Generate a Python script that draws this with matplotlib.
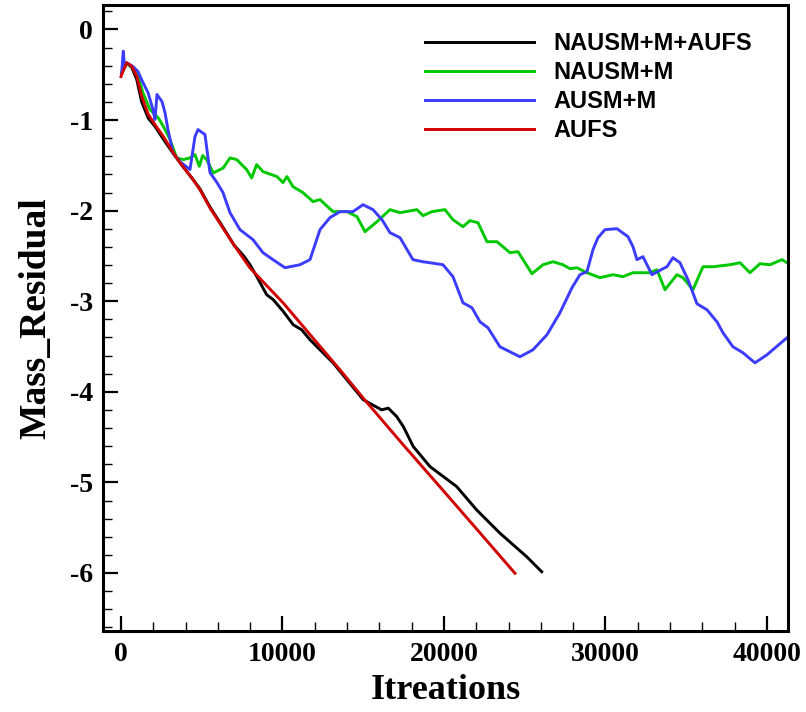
import numpy as np
import matplotlib
matplotlib.use("Agg")
import matplotlib.pyplot as plt
from matplotlib.ticker import MultipleLocator

plt.rcParams["axes.unicode_minus"] = False

# data (iterations, log residual)
black = np.array([
    [43, -0.48], [353, -0.37], [663, -0.42], [972, -0.55], [1282, -0.80],
    [1690, -0.98], [2105, -1.07], [2619, -1.21], [3238, -1.37], [3653, -1.47],
    [4477, -1.66], [4892, -1.76], [5511, -1.96], [6200, -2.15], [7000, -2.38],
    [7600, -2.50], [7988, -2.597], [8402, -2.726], [9022, -2.928], [9430, -2.983],
    [10050, -3.113], [10669, -3.26], [11189, -3.315], [11703, -3.425], [13146, -3.683],
    [15003, -4.088], [16142, -4.199], [16551, -4.18], [17071, -4.273], [17480, -4.383],
    [18099, -4.604], [19133, -4.825], [20786, -5.046], [22025, -5.304], [23467, -5.561],
    [25121, -5.82], [26050, -5.986],
])

red = np.array([
    [0, -0.52], [43, -0.497], [353, -0.368], [663, -0.406], [972, -0.516],
    [1282, -0.737], [1690, -0.939], [2105, -1.05], [2619, -1.18], [3238, -1.36],
    [3653, -1.47], [4477, -1.66], [4892, -1.77], [5511, -1.97], [6200, -2.16],
    [7000, -2.38], [7988, -2.633], [10050, -3.02], [13560, -3.757], [15003, -4.07],
    [17500, -4.59], [20000, -5.10], [22000, -5.51], [24396, -6.003],
])

green = np.array([
    [43, -0.475], [353, -0.38], [663, -0.41], [1053, -0.52], [1362, -0.70],
    [1796, -0.884], [2310, -0.976], [2619, -1.068], [3034, -1.215], [3449, -1.418],
    [3858, -1.436], [4272, -1.418], [4582, -1.381], [4848, -1.51], [5058, -1.392],
    [5306, -1.436], [5715, -1.584], [6334, -1.528], [6749, -1.418], [7164, -1.436],
    [7783, -1.547], [8093, -1.639], [8402, -1.492], [8793, -1.569], [9659, -1.624],
    [10031, -1.69], [10279, -1.624], [10650, -1.735], [11269, -1.801], [11889, -1.90],
    [12322, -1.878], [13127, -2.011], [13994, -2.011], [14613, -2.066], [15108, -2.232],
    [15851, -2.122], [16656, -1.989], [17276, -2.022], [18328, -1.989], [18700, -2.055],
    [19257, -2.011], [20062, -1.989], [20557, -2.10], [21176, -2.177], [21610, -2.11],
    [22105, -2.133], [22663, -2.343], [23282, -2.343], [24087, -2.464], [24582, -2.453],
    [25449, -2.696], [26130, -2.597], [26749, -2.564], [27368, -2.597], [27802, -2.641],
    [28235, -2.63], [28854, -2.685], [29659, -2.74], [30464, -2.707], [31084, -2.729],
    [31703, -2.685], [32755, -2.685], [33189, -2.652], [33684, -2.873], [34427, -2.707],
    [34799, -2.74], [35418, -2.873], [36037, -2.619], [36656, -2.619], [37709, -2.597],
    [38328, -2.575], [38947, -2.685], [39567, -2.586], [40186, -2.597], [40929, -2.541],
    [41238, -2.575], [41500, -2.60],
])

blue = np.array([
    [43, -0.478], [142, -0.24], [217, -0.40], [353, -0.368], [743, -0.409],
    [1053, -0.464], [1362, -0.586], [1672, -0.696], [1981, -0.884], [2105, -0.994],
    [2229, -0.718], [2539, -0.796], [2724, -0.917], [2910, -1.105], [3220, -1.359],
    [3653, -1.459], [4272, -1.547], [4582, -1.182], [4768, -1.105], [5201, -1.16],
    [5511, -1.58], [5944, -1.69], [6316, -1.80], [6749, -2.022], [7368, -2.21],
    [8173, -2.32], [8793, -2.464], [9412, -2.541], [10155, -2.63], [11084, -2.597],
    [11703, -2.541], [12322, -2.21], [12941, -2.077], [13560, -2.011], [14365, -2.011],
    [14985, -1.934], [15604, -1.989], [16161, -2.10], [16656, -2.243], [17276, -2.298],
    [18080, -2.541], [18700, -2.564], [19133, -2.575], [19938, -2.597], [20557, -2.729],
    [21176, -3.017], [21734, -3.072], [22229, -3.227], [22724, -3.293], [23467, -3.503],
    [24706, -3.613], [25511, -3.536], [26378, -3.37], [27183, -3.127], [27926, -2.851],
    [28421, -2.707], [28854, -2.674], [29226, -2.431], [29536, -2.298], [29969, -2.21],
    [30712, -2.199], [31393, -2.287], [31703, -2.398], [31950, -2.541], [32322, -2.508],
    [32879, -2.707], [33560, -2.641], [33808, -2.619], [34180, -2.519], [34613, -2.575],
    [35108, -2.762], [35666, -3.028], [36285, -3.094], [36904, -3.227], [37276, -3.348],
    [37895, -3.503], [38514, -3.569], [39257, -3.68], [40000, -3.591], [41238, -3.403],
    [41500, -3.38],
])

labels = ["NAUSM+M+AUFS", "NAUSM+M", "AUSM+M", "AUFS"]
colors = ["black", "#00c800", "#3c3cff", "#d00000"]

serif = "Liberation Serif"

fig = plt.figure(figsize=(8.06, 7.12), dpi=100)
ax = fig.add_axes([0.1274, 0.1142, 0.978 - 0.1274, 0.9923 - 0.1142])

for data, lab, col in zip([black, green, blue, red], labels, colors):
    ax.plot(data[:, 0], data[:, 1], color=col, lw=2.1, label=lab)

ax.set_xlim(-1133, 41319)
ax.set_ylim(-6.637, 0.265)

ax.xaxis.set_major_locator(MultipleLocator(10000))
ax.xaxis.set_minor_locator(MultipleLocator(2000))
ax.yaxis.set_major_locator(MultipleLocator(1))
ax.yaxis.set_minor_locator(MultipleLocator(0.2))
ax.tick_params(which="major", direction="in", length=11, width=1.6, top=False, right=False)
ax.tick_params(which="minor", direction="in", length=6.5, width=1.0, top=False, right=False)
ax.tick_params(axis="y", pad=7)
ax.tick_params(axis="x", pad=8)

for sp in ax.spines.values():
    sp.set_linewidth(2.2)

for lab in ax.get_xticklabels() + ax.get_yticklabels():
    lab.set_fontfamily(serif)
    lab.set_fontweight("bold")
    lab.set_fontsize(20)

ax.set_xlabel("Itreations", fontfamily=serif, fontweight="bold", fontsize=26, labelpad=5)
ax.set_ylabel("Mass_Residual", fontfamily=serif, fontweight="bold", fontsize=27, labelpad=12)

leg = ax.legend(loc="upper left", bbox_to_anchor=(425 / 806, 1 - 32 / 712),
                bbox_transform=fig.transFigure, frameon=False, borderpad=0,
                borderaxespad=0, handlelength=4.6, handletextpad=0.85,
                labelspacing=0.26, prop={"family": "Liberation Sans", "weight": "bold", "size": 17})

fig.savefig("out.png", dpi=100)
